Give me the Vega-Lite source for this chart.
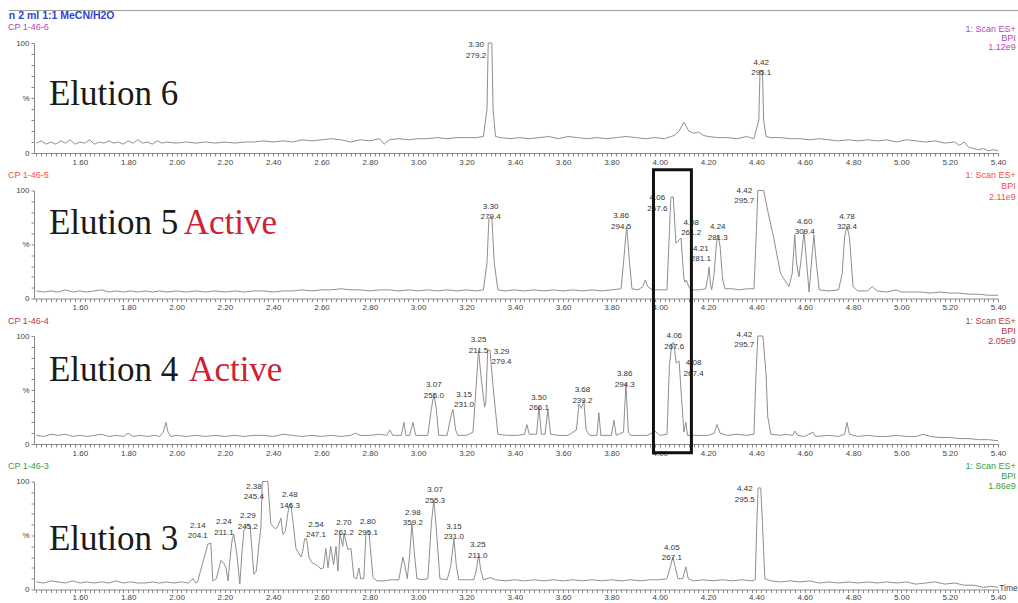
{
  "$schema": "https://vega.github.io/schema/vega-lite/v6.json",
  "autosize": {"type": "pad"},
  "padding": {"left": 7, "top": 10, "right": 0, "bottom": 0},
  "background": "white",
  "bounds": "flush",
  "spacing": 37.5,
  "config": {
    "view": {"stroke": null},
    "font": "Liberation Sans",
    "axis": {"grid": false, "domainColor": "#8a8a8a", "tickColor": "#8a8a8a", "labelColor": "#444444", "labelFontSize": 8, "tickSize": 3, "labelPadding": 2, "labelFont": "Liberation Sans"}
  },
  "datasets": {
    "e6": [
      {"t":1.42,"v":9},{"t":1.44,"v":11},{"t":1.46,"v":8},{"t":1.48,"v":10},{"t":1.50,"v":8},{"t":1.52,"v":11},{"t":1.54,"v":9},{"t":1.56,"v":12},{"t":1.58,"v":8},{"t":1.60,"v":10},{"t":1.62,"v":9},{"t":1.64,"v":12},{"t":1.66,"v":8},{"t":1.68,"v":10},{"t":1.70,"v":9},{"t":1.72,"v":11},{"t":1.74,"v":9},{"t":1.76,"v":10},{"t":1.78,"v":8},{"t":1.80,"v":11},{"t":1.82,"v":9},{"t":1.84,"v":12},{"t":1.86,"v":9},{"t":1.88,"v":10},{"t":1.90,"v":8},{"t":1.92,"v":11},{"t":1.94,"v":9},{"t":1.96,"v":10},{"t":2.00,"v":9},{"t":2.04,"v":10},{"t":2.08,"v":9},{"t":2.12,"v":10},{"t":2.16,"v":9},{"t":2.20,"v":10},{"t":2.24,"v":9},{"t":2.28,"v":10},{"t":2.32,"v":10},{"t":2.36,"v":11},{"t":2.40,"v":10},{"t":2.44,"v":11},{"t":2.48,"v":10},{"t":2.52,"v":12},{"t":2.56,"v":11},{"t":2.60,"v":12},{"t":2.64,"v":13},{"t":2.68,"v":12},{"t":2.72,"v":10},{"t":2.76,"v":12},{"t":2.80,"v":11},{"t":2.84,"v":13},{"t":2.86,"v":8},{"t":2.88,"v":12},{"t":2.92,"v":13},{"t":2.96,"v":12},{"t":3.00,"v":13},{"t":3.04,"v":13},{"t":3.08,"v":14},{"t":3.12,"v":13},{"t":3.16,"v":14},{"t":3.20,"v":14},{"t":3.24,"v":14},{"t":3.27,"v":15},{"t":3.285,"v":40},{"t":3.29,"v":100},{"t":3.305,"v":100},{"t":3.31,"v":40},{"t":3.32,"v":15},{"t":3.34,"v":14},{"t":3.38,"v":13},{"t":3.42,"v":14},{"t":3.46,"v":13},{"t":3.50,"v":14},{"t":3.54,"v":15},{"t":3.58,"v":13},{"t":3.62,"v":15},{"t":3.66,"v":14},{"t":3.70,"v":13},{"t":3.74,"v":14},{"t":3.78,"v":13},{"t":3.82,"v":14},{"t":3.86,"v":15},{"t":3.90,"v":14},{"t":3.94,"v":13},{"t":3.98,"v":14},{"t":4.02,"v":13},{"t":4.06,"v":16},{"t":4.08,"v":20},{"t":4.10,"v":28},{"t":4.12,"v":20},{"t":4.14,"v":18},{"t":4.16,"v":19},{"t":4.18,"v":16},{"t":4.20,"v":15},{"t":4.24,"v":14},{"t":4.28,"v":14},{"t":4.32,"v":13},{"t":4.36,"v":15},{"t":4.39,"v":13},{"t":4.41,"v":30},{"t":4.415,"v":75},{"t":4.425,"v":75},{"t":4.43,"v":30},{"t":4.44,"v":15},{"t":4.46,"v":14},{"t":4.50,"v":14},{"t":4.54,"v":13},{"t":4.58,"v":13},{"t":4.62,"v":12},{"t":4.66,"v":13},{"t":4.70,"v":12},{"t":4.74,"v":11},{"t":4.78,"v":12},{"t":4.82,"v":11},{"t":4.86,"v":12},{"t":4.90,"v":11},{"t":4.94,"v":12},{"t":4.98,"v":10},{"t":5.02,"v":12},{"t":5.06,"v":11},{"t":5.10,"v":10},{"t":5.14,"v":11},{"t":5.18,"v":9},{"t":5.22,"v":10},{"t":5.24,"v":7},{"t":5.26,"v":10},{"t":5.28,"v":5},{"t":5.30,"v":4},{"t":5.32,"v":3},{"t":5.34,"v":4},{"t":5.36,"v":2},{"t":5.38,"v":3},{"t":5.40,"v":2}
    ],
    "e5": [
      {"t":1.42,"v":7},{"t":1.45,"v":6},{"t":1.48,"v":7},{"t":1.51,"v":6},{"t":1.54,"v":8},{"t":1.57,"v":6},{"t":1.60,"v":7},{"t":1.63,"v":6},{"t":1.66,"v":7},{"t":1.69,"v":8},{"t":1.72,"v":6},{"t":1.75,"v":7},{"t":1.78,"v":6},{"t":1.81,"v":7},{"t":1.84,"v":6},{"t":1.87,"v":7},{"t":1.90,"v":6},{"t":1.93,"v":7},{"t":1.96,"v":6},{"t":2.00,"v":7},{"t":2.04,"v":6},{"t":2.08,"v":7},{"t":2.12,"v":6},{"t":2.16,"v":7},{"t":2.20,"v":6},{"t":2.24,"v":7},{"t":2.28,"v":6},{"t":2.32,"v":7},{"t":2.36,"v":7},{"t":2.40,"v":6},{"t":2.44,"v":7},{"t":2.48,"v":7},{"t":2.52,"v":8},{"t":2.56,"v":7},{"t":2.60,"v":8},{"t":2.64,"v":8},{"t":2.68,"v":9},{"t":2.72,"v":8},{"t":2.76,"v":8},{"t":2.80,"v":7},{"t":2.84,"v":8},{"t":2.88,"v":8},{"t":2.92,"v":7},{"t":2.96,"v":8},{"t":3.00,"v":7},{"t":3.04,"v":8},{"t":3.08,"v":7},{"t":3.12,"v":8},{"t":3.16,"v":7},{"t":3.20,"v":8},{"t":3.24,"v":7},{"t":3.27,"v":8},{"t":3.285,"v":33},{"t":3.293,"v":75},{"t":3.305,"v":75},{"t":3.315,"v":33},{"t":3.33,"v":8},{"t":3.36,"v":7},{"t":3.40,"v":8},{"t":3.44,"v":7},{"t":3.48,"v":8},{"t":3.52,"v":7},{"t":3.56,"v":8},{"t":3.60,"v":7},{"t":3.64,"v":8},{"t":3.68,"v":7},{"t":3.72,"v":8},{"t":3.76,"v":7},{"t":3.80,"v":8},{"t":3.84,"v":9},{"t":3.85,"v":33},{"t":3.863,"v":67},{"t":3.875,"v":33},{"t":3.885,"v":9},{"t":3.91,"v":8},{"t":3.93,"v":11},{"t":3.94,"v":17},{"t":3.95,"v":11},{"t":3.97,"v":8},{"t":4.00,"v":8},{"t":4.03,"v":8},{"t":4.04,"v":62},{"t":4.046,"v":94},{"t":4.056,"v":94},{"t":4.067,"v":51},{"t":4.075,"v":53},{"t":4.088,"v":56},{"t":4.10,"v":18},{"t":4.105,"v":15},{"t":4.11,"v":17},{"t":4.12,"v":11},{"t":4.13,"v":8},{"t":4.16,"v":8},{"t":4.19,"v":9},{"t":4.20,"v":21},{"t":4.204,"v":29},{"t":4.21,"v":13},{"t":4.215,"v":8},{"t":4.225,"v":23},{"t":4.235,"v":52},{"t":4.241,"v":59},{"t":4.25,"v":48},{"t":4.26,"v":18},{"t":4.27,"v":9},{"t":4.30,"v":9},{"t":4.33,"v":8},{"t":4.36,"v":9},{"t":4.39,"v":9},{"t":4.40,"v":62},{"t":4.406,"v":100},{"t":4.43,"v":100},{"t":4.45,"v":78},{"t":4.47,"v":58},{"t":4.50,"v":23},{"t":4.535,"v":11},{"t":4.548,"v":23},{"t":4.559,"v":59},{"t":4.566,"v":33},{"t":4.576,"v":20},{"t":4.586,"v":38},{"t":4.597,"v":62},{"t":4.608,"v":33},{"t":4.618,"v":6},{"t":4.628,"v":33},{"t":4.638,"v":59},{"t":4.648,"v":33},{"t":4.66,"v":8},{"t":4.70,"v":7},{"t":4.74,"v":8},{"t":4.755,"v":23},{"t":4.765,"v":57},{"t":4.775,"v":67},{"t":4.785,"v":57},{"t":4.80,"v":11},{"t":4.82,"v":7},{"t":4.86,"v":7},{"t":4.88,"v":11},{"t":4.90,"v":7},{"t":4.94,"v":6},{"t":4.978,"v":8},{"t":5.00,"v":6},{"t":5.04,"v":6},{"t":5.08,"v":6},{"t":5.12,"v":5},{"t":5.16,"v":6},{"t":5.20,"v":5},{"t":5.24,"v":5},{"t":5.28,"v":4},{"t":5.32,"v":4},{"t":5.36,"v":3},{"t":5.40,"v":3}
    ],
    "e4": [
      {"t":1.42,"v":8},{"t":1.45,"v":7},{"t":1.48,"v":9},{"t":1.51,"v":8},{"t":1.54,"v":9},{"t":1.57,"v":7},{"t":1.60,"v":8},{"t":1.63,"v":7},{"t":1.66,"v":8},{"t":1.69,"v":9},{"t":1.72,"v":7},{"t":1.75,"v":8},{"t":1.78,"v":7},{"t":1.80,"v":10},{"t":1.82,"v":7},{"t":1.85,"v":8},{"t":1.88,"v":7},{"t":1.91,"v":8},{"t":1.93,"v":7},{"t":1.945,"v":11},{"t":1.956,"v":20},{"t":1.965,"v":11},{"t":1.975,"v":7},{"t":2.00,"v":8},{"t":2.04,"v":7},{"t":2.08,"v":8},{"t":2.12,"v":7},{"t":2.16,"v":8},{"t":2.20,"v":7},{"t":2.24,"v":8},{"t":2.28,"v":7},{"t":2.32,"v":8},{"t":2.36,"v":8},{"t":2.40,"v":7},{"t":2.44,"v":9},{"t":2.48,"v":8},{"t":2.52,"v":7},{"t":2.56,"v":8},{"t":2.60,"v":7},{"t":2.64,"v":8},{"t":2.68,"v":7},{"t":2.72,"v":8},{"t":2.74,"v":10},{"t":2.76,"v":8},{"t":2.80,"v":8},{"t":2.84,"v":9},{"t":2.87,"v":8},{"t":2.883,"v":13},{"t":2.895,"v":8},{"t":2.93,"v":8},{"t":2.941,"v":20},{"t":2.95,"v":8},{"t":2.965,"v":8},{"t":2.978,"v":20},{"t":2.99,"v":8},{"t":3.04,"v":8},{"t":3.055,"v":33},{"t":3.065,"v":46},{"t":3.075,"v":33},{"t":3.085,"v":8},{"t":3.12,"v":8},{"t":3.135,"v":25},{"t":3.144,"v":32},{"t":3.155,"v":13},{"t":3.165,"v":8},{"t":3.20,"v":8},{"t":3.227,"v":11},{"t":3.24,"v":53},{"t":3.25,"v":87},{"t":3.26,"v":63},{"t":3.275,"v":34},{"t":3.28,"v":38},{"t":3.288,"v":87},{"t":3.297,"v":87},{"t":3.31,"v":53},{"t":3.33,"v":9},{"t":3.37,"v":8},{"t":3.41,"v":8},{"t":3.44,"v":9},{"t":3.45,"v":18},{"t":3.46,"v":9},{"t":3.49,"v":9},{"t":3.50,"v":34},{"t":3.51,"v":9},{"t":3.525,"v":9},{"t":3.537,"v":32},{"t":3.548,"v":9},{"t":3.58,"v":8},{"t":3.62,"v":8},{"t":3.655,"v":13},{"t":3.666,"v":37},{"t":3.676,"v":33},{"t":3.686,"v":40},{"t":3.695,"v":13},{"t":3.71,"v":8},{"t":3.74,"v":8},{"t":3.748,"v":29},{"t":3.756,"v":8},{"t":3.80,"v":8},{"t":3.81,"v":22},{"t":3.82,"v":8},{"t":3.85,"v":11},{"t":3.86,"v":56},{"t":3.87,"v":11},{"t":3.88,"v":8},{"t":3.95,"v":8},{"t":3.98,"v":12},{"t":4.00,"v":8},{"t":4.03,"v":9},{"t":4.04,"v":73},{"t":4.05,"v":93},{"t":4.058,"v":94},{"t":4.068,"v":75},{"t":4.08,"v":77},{"t":4.09,"v":43},{"t":4.10,"v":11},{"t":4.108,"v":20},{"t":4.115,"v":8},{"t":4.15,"v":8},{"t":4.20,"v":8},{"t":4.225,"v":10},{"t":4.237,"v":18},{"t":4.25,"v":10},{"t":4.28,"v":8},{"t":4.32,"v":9},{"t":4.36,"v":8},{"t":4.39,"v":9},{"t":4.398,"v":63},{"t":4.406,"v":100},{"t":4.427,"v":100},{"t":4.44,"v":65},{"t":4.447,"v":25},{"t":4.46,"v":9},{"t":4.50,"v":8},{"t":4.52,"v":9},{"t":4.55,"v":8},{"t":4.559,"v":12},{"t":4.57,"v":8},{"t":4.60,"v":7},{"t":4.634,"v":11},{"t":4.645,"v":7},{"t":4.70,"v":8},{"t":4.74,"v":7},{"t":4.765,"v":9},{"t":4.775,"v":20},{"t":4.785,"v":9},{"t":4.82,"v":7},{"t":4.86,"v":8},{"t":4.90,"v":7},{"t":4.94,"v":7},{"t":4.98,"v":8},{"t":5.02,"v":7},{"t":5.06,"v":7},{"t":5.09,"v":9},{"t":5.12,"v":7},{"t":5.16,"v":6},{"t":5.20,"v":6},{"t":5.24,"v":5},{"t":5.28,"v":5},{"t":5.32,"v":4},{"t":5.36,"v":4},{"t":5.40,"v":3}
    ],
    "e3": [
      {"t":1.42,"v":7},{"t":1.45,"v":6},{"t":1.48,"v":8},{"t":1.51,"v":7},{"t":1.54,"v":6},{"t":1.57,"v":8},{"t":1.60,"v":6},{"t":1.63,"v":7},{"t":1.66,"v":6},{"t":1.69,"v":7},{"t":1.72,"v":6},{"t":1.75,"v":8},{"t":1.78,"v":6},{"t":1.81,"v":7},{"t":1.84,"v":6},{"t":1.87,"v":6},{"t":1.90,"v":7},{"t":1.93,"v":6},{"t":1.96,"v":7},{"t":1.99,"v":6},{"t":2.02,"v":7},{"t":2.05,"v":6},{"t":2.068,"v":10},{"t":2.08,"v":6},{"t":2.087,"v":7},{"t":2.10,"v":18},{"t":2.115,"v":30},{"t":2.13,"v":42},{"t":2.142,"v":43},{"t":2.15,"v":8},{"t":2.165,"v":10},{"t":2.184,"v":27},{"t":2.196,"v":24},{"t":2.205,"v":20},{"t":2.213,"v":8},{"t":2.223,"v":32},{"t":2.23,"v":46},{"t":2.237,"v":51},{"t":2.25,"v":32},{"t":2.262,"v":5},{"t":2.27,"v":32},{"t":2.279,"v":55},{"t":2.295,"v":61},{"t":2.305,"v":57},{"t":2.32,"v":14},{"t":2.33,"v":17},{"t":2.341,"v":42},{"t":2.349,"v":57},{"t":2.355,"v":100},{"t":2.378,"v":100},{"t":2.39,"v":61},{"t":2.40,"v":58},{"t":2.41,"v":56},{"t":2.42,"v":59},{"t":2.432,"v":66},{"t":2.44,"v":51},{"t":2.45,"v":54},{"t":2.465,"v":77},{"t":2.473,"v":80},{"t":2.485,"v":57},{"t":2.494,"v":38},{"t":2.505,"v":34},{"t":2.515,"v":30},{"t":2.522,"v":35},{"t":2.53,"v":47},{"t":2.538,"v":47},{"t":2.548,"v":30},{"t":2.56,"v":25},{"t":2.575,"v":23},{"t":2.585,"v":22},{"t":2.597,"v":19},{"t":2.608,"v":20},{"t":2.618,"v":38},{"t":2.627,"v":20},{"t":2.638,"v":40},{"t":2.65,"v":23},{"t":2.66,"v":40},{"t":2.668,"v":17},{"t":2.676,"v":52},{"t":2.688,"v":40},{"t":2.693,"v":52},{"t":2.709,"v":37},{"t":2.722,"v":38},{"t":2.734,"v":11},{"t":2.745,"v":10},{"t":2.755,"v":20},{"t":2.762,"v":10},{"t":2.775,"v":10},{"t":2.784,"v":52},{"t":2.796,"v":54},{"t":2.813,"v":11},{"t":2.83,"v":8},{"t":2.86,"v":8},{"t":2.89,"v":9},{"t":2.92,"v":9},{"t":2.937,"v":30},{"t":2.945,"v":22},{"t":2.955,"v":10},{"t":2.965,"v":32},{"t":2.974,"v":61},{"t":2.985,"v":32},{"t":2.995,"v":10},{"t":3.02,"v":9},{"t":3.04,"v":10},{"t":3.055,"v":62},{"t":3.065,"v":83},{"t":3.075,"v":57},{"t":3.09,"v":10},{"t":3.12,"v":9},{"t":3.135,"v":22},{"t":3.148,"v":47},{"t":3.158,"v":22},{"t":3.168,"v":9},{"t":3.20,"v":9},{"t":3.23,"v":9},{"t":3.24,"v":17},{"t":3.25,"v":32},{"t":3.26,"v":17},{"t":3.27,"v":9},{"t":3.30,"v":11},{"t":3.32,"v":9},{"t":3.36,"v":8},{"t":3.40,"v":9},{"t":3.44,"v":8},{"t":3.48,"v":9},{"t":3.52,"v":8},{"t":3.56,"v":9},{"t":3.60,"v":8},{"t":3.64,"v":9},{"t":3.68,"v":8},{"t":3.72,"v":9},{"t":3.76,"v":8},{"t":3.80,"v":9},{"t":3.84,"v":8},{"t":3.88,"v":9},{"t":3.92,"v":8},{"t":3.96,"v":9},{"t":4.00,"v":9},{"t":4.03,"v":10},{"t":4.045,"v":22},{"t":4.054,"v":30},{"t":4.063,"v":22},{"t":4.075,"v":10},{"t":4.095,"v":10},{"t":4.108,"v":21},{"t":4.118,"v":10},{"t":4.14,"v":8},{"t":4.18,"v":9},{"t":4.22,"v":8},{"t":4.26,"v":9},{"t":4.30,"v":8},{"t":4.34,"v":9},{"t":4.38,"v":8},{"t":4.395,"v":9},{"t":4.402,"v":62},{"t":4.407,"v":94},{"t":4.418,"v":94},{"t":4.425,"v":62},{"t":4.435,"v":10},{"t":4.46,"v":8},{"t":4.50,"v":7},{"t":4.54,"v":8},{"t":4.58,"v":7},{"t":4.62,"v":8},{"t":4.66,"v":6},{"t":4.70,"v":7},{"t":4.74,"v":6},{"t":4.78,"v":7},{"t":4.82,"v":6},{"t":4.86,"v":7},{"t":4.90,"v":6},{"t":4.94,"v":7},{"t":4.98,"v":6},{"t":5.02,"v":7},{"t":5.06,"v":5},{"t":5.10,"v":6},{"t":5.14,"v":7},{"t":5.18,"v":5},{"t":5.22,"v":6},{"t":5.26,"v":4},{"t":5.30,"v":4},{"t":5.34,"v":2},{"t":5.37,"v":3},{"t":5.40,"v":2}
    ],
    "lab": [
      {"p":"E6","t":3.24,"v":98,"label":"3.30\n279.2"},
      {"p":"E6","t":4.42,"v":82,"label":"4.42\n295.1"},
      {"p":"E5","t":3.30,"v":85,"label":"3.30\n279.4"},
      {"p":"E5","t":3.84,"v":76,"label":"3.86\n294.5"},
      {"p":"E5","t":3.99,"v":93,"label":"4.06\n267.6"},
      {"p":"E5","t":4.13,"v":70,"label":"4.08\n261.2"},
      {"p":"E5","t":4.17,"v":46,"label":"4.21\n281.1"},
      {"p":"E5","t":4.24,"v":66,"label":"4.24\n281.3"},
      {"p":"E5","t":4.35,"v":100,"label":"4.42\n295.7"},
      {"p":"E5","t":4.60,"v":71,"label":"4.60\n309.4"},
      {"p":"E5","t":4.775,"v":75.5,"label":"4.78\n323.4"},
      {"p":"E4","t":3.065,"v":54.6,"label":"3.07\n255.0"},
      {"p":"E4","t":3.19,"v":45.4,"label":"3.15\n231.0"},
      {"p":"E4","t":3.25,"v":96,"label":"3.25\n211.5"},
      {"p":"E4","t":3.345,"v":85.6,"label":"3.29\n279.4"},
      {"p":"E4","t":3.50,"v":42.6,"label":"3.50\n266.1"},
      {"p":"E4","t":3.68,"v":50,"label":"3.68\n239.2"},
      {"p":"E4","t":3.855,"v":64.8,"label":"3.86\n294.3"},
      {"p":"E4","t":4.06,"v":100,"label":"4.06\n267.6"},
      {"p":"E4","t":4.14,"v":75,"label":"4.08\n267.4"},
      {"p":"E4","t":4.35,"v":101,"label":"4.42\n295.7"},
      {"p":"E3","t":2.088,"v":59,"label":"2.14\n204.1"},
      {"p":"E3","t":2.196,"v":62.5,"label":"2.24\n211.1"},
      {"p":"E3","t":2.295,"v":68,"label":"2.29\n245.2"},
      {"p":"E3","t":2.32,"v":95,"label":"2.38\n245.4"},
      {"p":"E3","t":2.469,"v":87.5,"label":"2.48\n146.3"},
      {"p":"E3","t":2.577,"v":60,"label":"2.54\n247.1"},
      {"p":"E3","t":2.693,"v":62,"label":"2.70\n261.2"},
      {"p":"E3","t":2.792,"v":62.5,"label":"2.80\n295.1"},
      {"p":"E3","t":2.978,"v":71,"label":"2.98\n359.2"},
      {"p":"E3","t":3.07,"v":92,"label":"3.07\n255.3"},
      {"p":"E3","t":3.148,"v":58,"label":"3.15\n231.0"},
      {"p":"E3","t":3.247,"v":41,"label":"3.25\n211.0"},
      {"p":"E3","t":4.05,"v":38.5,"label":"4.05\n267.1"},
      {"p":"E3","t":4.352,"v":92.6,"label":"4.42\n295.5"}
    ],
    "ann": [
      {"p":"E6","role":"name","t":1.4717,"v":43.6,"txt":"Elution 6"},
      {"p":"E6","role":"hdr","t":1.302,"v":114.5,"txt":"CP 1-46-6"},
      {"p":"E6","role":"rhdr","t":5.474,"v":112.7,"txt":"1: Scan ES+"},
      {"p":"E6","role":"rhdr","t":5.474,"v":104.5,"txt":"BPI"},
      {"p":"E6","role":"rhdr","t":5.474,"v":96.4,"txt":"1.12e9"},
      {"p":"E6","role":"method","t":1.306,"v":124.8,"txt":"n 2 ml 1:1 MeCN/H2O"},
      {"p":"E5","role":"name","t":1.4717,"v":59.3,"txt":"Elution 5"},
      {"p":"E5","role":"active","t":2.030,"v":59.3,"txt":"Active"},
      {"p":"E5","role":"hdr","t":1.302,"v":114.8,"txt":"CP 1-46-5"},
      {"p":"E5","role":"rhdr","t":5.474,"v":114.2,"txt":"1: Scan ES+"},
      {"p":"E5","role":"rhdr","t":5.474,"v":104,"txt":"BPI"},
      {"p":"E5","role":"rhdr","t":5.474,"v":94.2,"txt":"2.11e9"},
      {"p":"E4","role":"name","t":1.4717,"v":58.3,"txt":"Elution 4"},
      {"p":"E4","role":"active","t":2.052,"v":58.3,"txt":"Active"},
      {"p":"E4","role":"hdr","t":1.302,"v":114.2,"txt":"CP 1-46-4"},
      {"p":"E4","role":"rhdr","t":5.474,"v":113.6,"txt":"1: Scan ES+"},
      {"p":"E4","role":"rhdr","t":5.474,"v":104.3,"txt":"BPI"},
      {"p":"E4","role":"rhdr","t":5.474,"v":95,"txt":"2.05e9"},
      {"p":"E3","role":"name","t":1.4717,"v":36.4,"txt":"Elution 3"},
      {"p":"E3","role":"hdr","t":1.302,"v":114.5,"txt":"CP 1-46-3"},
      {"p":"E3","role":"rhdr","t":5.474,"v":114.5,"txt":"1: Scan ES+"},
      {"p":"E3","role":"rhdr","t":5.474,"v":105.3,"txt":"BPI"},
      {"p":"E3","role":"rhdr","t":5.474,"v":96,"txt":"1.86e9"},
      {"p":"E3","role":"time","t":5.482,"v":1,"txt":"Time"}
    ],
    "topline": [{"t":1.305,"t2":5.75,"v":129.5}],
    "box": [{"t":3.974,"t2":4.131,"v":254,"v2":-8}]
  },
  "vconcat": [
    {
      "width": 964, "height": 110,
      "encoding": {
        "x": {"field": "t", "type": "quantitative", "scale": {"domain": [1.41, 5.4], "nice": false, "zero": false}, "axis": {"title": null, "tickCount": 200, "labelOverlap": false, "labelFlush": false, "labelExpr": "abs(datum.value*5 - round(datum.value*5)) < 0.001 ? format(datum.value, '.2f') : ''"}},
        "y": {"field": "v", "type": "quantitative", "scale": {"domain": [0, 100], "nice": false}, "axis": {"title": null, "values": [0,10,20,30,40,50,60,70,80,90,100], "labelOverlap": false, "labelExpr": "datum.value == 100 ? '100' : datum.value == 0 ? '0' : datum.value == 50 ? '%' : ''"}}
      },
      "layer": [
        {"data": {"name": "topline"}, "mark": {"type": "rule", "color": "#9a9a9a", "strokeWidth": 1}, "encoding": {"x2": {"field": "t2"}}},
        {"data": {"name": "e6"}, "mark": {"type": "line", "color": "#8f8f8f", "strokeWidth": 1}},
        {"data": {"name": "lab"}, "transform": [{"filter": "datum.p == 'E6'"}], "mark": {"type": "text", "fontSize": 8, "lineBreak": "\n", "lineHeight": 10.5, "baseline": "middle", "align": "center", "color": "#333333"}, "encoding": {"text": {"field": "label"}}},
        {"data": {"name": "ann"}, "transform": [{"filter": "datum.p == 'E6' && datum.role == 'name'"}], "mark": {"type": "text", "font": "Liberation Serif", "fontSize": 35, "align": "left", "baseline": "alphabetic", "color": "#1a1a1a"}, "encoding": {"text": {"field": "txt"}}},
        {"data": {"name": "ann"}, "transform": [{"filter": "datum.p == 'E6' && datum.role == 'hdr'"}], "mark": {"type": "text", "fontSize": 9, "align": "left", "baseline": "middle", "color": "#b548b5"}, "encoding": {"text": {"field": "txt"}}},
        {"data": {"name": "ann"}, "transform": [{"filter": "datum.p == 'E6' && datum.role == 'rhdr'"}], "mark": {"type": "text", "fontSize": 9, "align": "right", "baseline": "middle", "color": "#b548b5"}, "encoding": {"text": {"field": "txt"}}},
        {"data": {"name": "ann"}, "transform": [{"filter": "datum.p == 'E6' && datum.role == 'method'"}], "mark": {"type": "text", "fontSize": 10.5, "fontWeight": "bold", "align": "left", "baseline": "middle", "color": "#2f43d8"}, "encoding": {"text": {"field": "txt"}}}
      ]
    },
    {
      "width": 964, "height": 108,
      "encoding": {
        "x": {"field": "t", "type": "quantitative", "scale": {"domain": [1.41, 5.4], "nice": false, "zero": false}, "axis": {"title": null, "tickCount": 200, "labelOverlap": false, "labelFlush": false, "labelExpr": "abs(datum.value*5 - round(datum.value*5)) < 0.001 ? format(datum.value, '.2f') : ''"}},
        "y": {"field": "v", "type": "quantitative", "scale": {"domain": [0, 100], "nice": false}, "axis": {"title": null, "values": [0,10,20,30,40,50,60,70,80,90,100], "labelOverlap": false, "labelExpr": "datum.value == 100 ? '100' : datum.value == 0 ? '0' : datum.value == 50 ? '%' : ''"}}
      },
      "layer": [
        {"data": {"name": "e5"}, "mark": {"type": "line", "color": "#8f8f8f", "strokeWidth": 1}},
        {"data": {"name": "lab"}, "transform": [{"filter": "datum.p == 'E5'"}], "mark": {"type": "text", "fontSize": 8, "lineBreak": "\n", "lineHeight": 10.5, "baseline": "middle", "align": "center", "color": "#333333"}, "encoding": {"text": {"field": "label"}}},
        {"data": {"name": "ann"}, "transform": [{"filter": "datum.p == 'E5' && datum.role == 'name'"}], "mark": {"type": "text", "font": "Liberation Serif", "fontSize": 35, "align": "left", "baseline": "alphabetic", "color": "#1a1a1a"}, "encoding": {"text": {"field": "txt"}}},
        {"data": {"name": "ann"}, "transform": [{"filter": "datum.p == 'E5' && datum.role == 'active'"}], "mark": {"type": "text", "font": "Liberation Serif", "fontSize": 35, "align": "left", "baseline": "alphabetic", "color": "#cc2233"}, "encoding": {"text": {"field": "txt"}}},
        {"data": {"name": "ann"}, "transform": [{"filter": "datum.p == 'E5' && datum.role == 'hdr'"}], "mark": {"type": "text", "fontSize": 9, "align": "left", "baseline": "middle", "color": "#ff4a4a"}, "encoding": {"text": {"field": "txt"}}},
        {"data": {"name": "ann"}, "transform": [{"filter": "datum.p == 'E5' && datum.role == 'rhdr'"}], "mark": {"type": "text", "fontSize": 9, "align": "right", "baseline": "middle", "color": "#ff4a4a"}, "encoding": {"text": {"field": "txt"}}}
      ]
    },
    {
      "width": 964, "height": 108,
      "encoding": {
        "x": {"field": "t", "type": "quantitative", "scale": {"domain": [1.41, 5.4], "nice": false, "zero": false}, "axis": {"title": null, "tickCount": 200, "labelOverlap": false, "labelFlush": false, "labelExpr": "abs(datum.value*5 - round(datum.value*5)) < 0.001 ? format(datum.value, '.2f') : ''"}},
        "y": {"field": "v", "type": "quantitative", "scale": {"domain": [0, 100], "nice": false}, "axis": {"title": null, "values": [0,10,20,30,40,50,60,70,80,90,100], "labelOverlap": false, "labelExpr": "datum.value == 100 ? '100' : datum.value == 0 ? '0' : datum.value == 50 ? '%' : ''"}}
      },
      "layer": [
        {"data": {"name": "e4"}, "mark": {"type": "line", "color": "#8f8f8f", "strokeWidth": 1}},
        {"data": {"name": "lab"}, "transform": [{"filter": "datum.p == 'E4'"}], "mark": {"type": "text", "fontSize": 8, "lineBreak": "\n", "lineHeight": 10.5, "baseline": "middle", "align": "center", "color": "#333333"}, "encoding": {"text": {"field": "label"}}},
        {"data": {"name": "ann"}, "transform": [{"filter": "datum.p == 'E4' && datum.role == 'name'"}], "mark": {"type": "text", "font": "Liberation Serif", "fontSize": 35, "align": "left", "baseline": "alphabetic", "color": "#1a1a1a"}, "encoding": {"text": {"field": "txt"}}},
        {"data": {"name": "ann"}, "transform": [{"filter": "datum.p == 'E4' && datum.role == 'active'"}], "mark": {"type": "text", "font": "Liberation Serif", "fontSize": 35, "align": "left", "baseline": "alphabetic", "color": "#cc2233"}, "encoding": {"text": {"field": "txt"}}},
        {"data": {"name": "ann"}, "transform": [{"filter": "datum.p == 'E4' && datum.role == 'hdr'"}], "mark": {"type": "text", "fontSize": 9, "align": "left", "baseline": "middle", "color": "#b83838"}, "encoding": {"text": {"field": "txt"}}},
        {"data": {"name": "ann"}, "transform": [{"filter": "datum.p == 'E4' && datum.role == 'rhdr'"}], "mark": {"type": "text", "fontSize": 9, "align": "right", "baseline": "middle", "color": "#b83838"}, "encoding": {"text": {"field": "txt"}}},
        {"data": {"name": "box"}, "mark": {"type": "rect", "filled": false, "color": "#111111", "strokeWidth": 3}, "encoding": {"x2": {"field": "t2"}, "y2": {"field": "v2"}}}
      ]
    },
    {
      "width": 964, "height": 108,
      "encoding": {
        "x": {"field": "t", "type": "quantitative", "scale": {"domain": [1.41, 5.4], "nice": false, "zero": false}, "axis": {"title": null, "tickCount": 200, "labelOverlap": false, "labelFlush": false, "labelPadding": 1, "labelExpr": "abs(datum.value*5 - round(datum.value*5)) < 0.001 ? format(datum.value, '.2f') : ''"}},
        "y": {"field": "v", "type": "quantitative", "scale": {"domain": [0, 100], "nice": false}, "axis": {"title": null, "values": [0,10,20,30,40,50,60,70,80,90,100], "labelOverlap": false, "labelExpr": "datum.value == 100 ? '100' : datum.value == 0 ? '0' : datum.value == 50 ? '%' : ''"}}
      },
      "layer": [
        {"data": {"name": "e3"}, "mark": {"type": "line", "color": "#8f8f8f", "strokeWidth": 1}},
        {"data": {"name": "lab"}, "transform": [{"filter": "datum.p == 'E3'"}], "mark": {"type": "text", "fontSize": 8, "lineBreak": "\n", "lineHeight": 10.5, "baseline": "middle", "align": "center", "color": "#333333"}, "encoding": {"text": {"field": "label"}}},
        {"data": {"name": "ann"}, "transform": [{"filter": "datum.p == 'E3' && datum.role == 'name'"}], "mark": {"type": "text", "font": "Liberation Serif", "fontSize": 35, "align": "left", "baseline": "alphabetic", "color": "#1a1a1a"}, "encoding": {"text": {"field": "txt"}}},
        {"data": {"name": "ann"}, "transform": [{"filter": "datum.p == 'E3' && datum.role == 'hdr'"}], "mark": {"type": "text", "fontSize": 9, "align": "left", "baseline": "middle", "color": "#3a9e3a"}, "encoding": {"text": {"field": "txt"}}},
        {"data": {"name": "ann"}, "transform": [{"filter": "datum.p == 'E3' && datum.role == 'rhdr'"}], "mark": {"type": "text", "fontSize": 9, "align": "right", "baseline": "middle", "color": "#3a9e3a"}, "encoding": {"text": {"field": "txt"}}},
        {"data": {"name": "ann"}, "transform": [{"filter": "datum.p == 'E3' && datum.role == 'time'"}], "mark": {"type": "text", "fontSize": 8.5, "align": "right", "baseline": "middle", "color": "#444444"}, "encoding": {"text": {"field": "txt"}}}
      ]
    }
  ]
}
